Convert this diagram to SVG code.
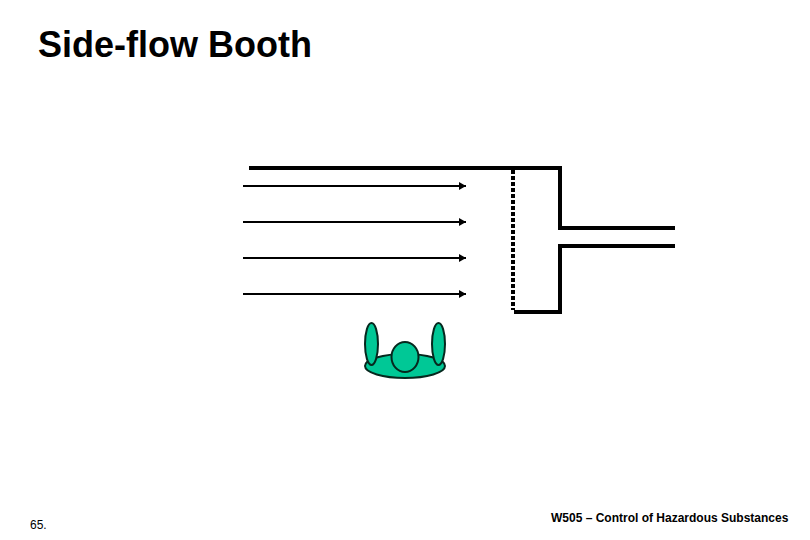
<svg xmlns="http://www.w3.org/2000/svg" width="810" height="540" viewBox="0 0 810 540">
<style>
text{font-family:"Liberation Sans",Arial,sans-serif;fill:#000}
.wall{fill:none;stroke:#000;stroke-width:4}
.flow{stroke:#000;stroke-width:2;fill:none;marker-end:url(#arrow)}
.body{fill:#00c896;stroke:#06281e;stroke-width:2}
</style>
<defs><marker id="arrow" markerUnits="userSpaceOnUse" markerWidth="8" markerHeight="10" refX="7" refY="5" orient="auto"><path d="M0 1L7 5L0 9Z" fill="#000"/></marker></defs>
<rect width="810" height="540" fill="#fff"/>
<text id="title" x="38" y="57" font-size="36" font-weight="700">Side-flow Booth</text>
<g id="connectors">
<line class="flow" x1="243" y1="186" x2="466" y2="186"/>
<line class="flow" x1="243" y1="222" x2="466" y2="222"/>
<line class="flow" x1="243" y1="258" x2="466" y2="258"/>
<line class="flow" x1="243" y1="294" x2="466" y2="294"/>
</g>
<g id="booth">
<path class="wall" d="M249 168H560V228H675"/>
<path class="wall" d="M514 312H560V246H675"/>
<line x1="513" y1="170" x2="513" y2="310" stroke="#000" stroke-width="4" stroke-dasharray="4 2"/>
</g>
<g id="person">
<ellipse class="body" cx="405" cy="366" rx="40" ry="12"/>
<ellipse class="body" cx="371.500" cy="344" rx="6.500" ry="21"/>
<ellipse class="body" cx="438.500" cy="344" rx="6.500" ry="21"/>
<ellipse class="body" cx="405" cy="357" rx="13.500" ry="15"/>
</g>
<text id="page" x="30" y="529" font-size="12">65.</text>
<text id="footer" x="551" y="522" font-size="12" font-weight="700">W505 – Control of Hazardous Substances</text>
</svg>
